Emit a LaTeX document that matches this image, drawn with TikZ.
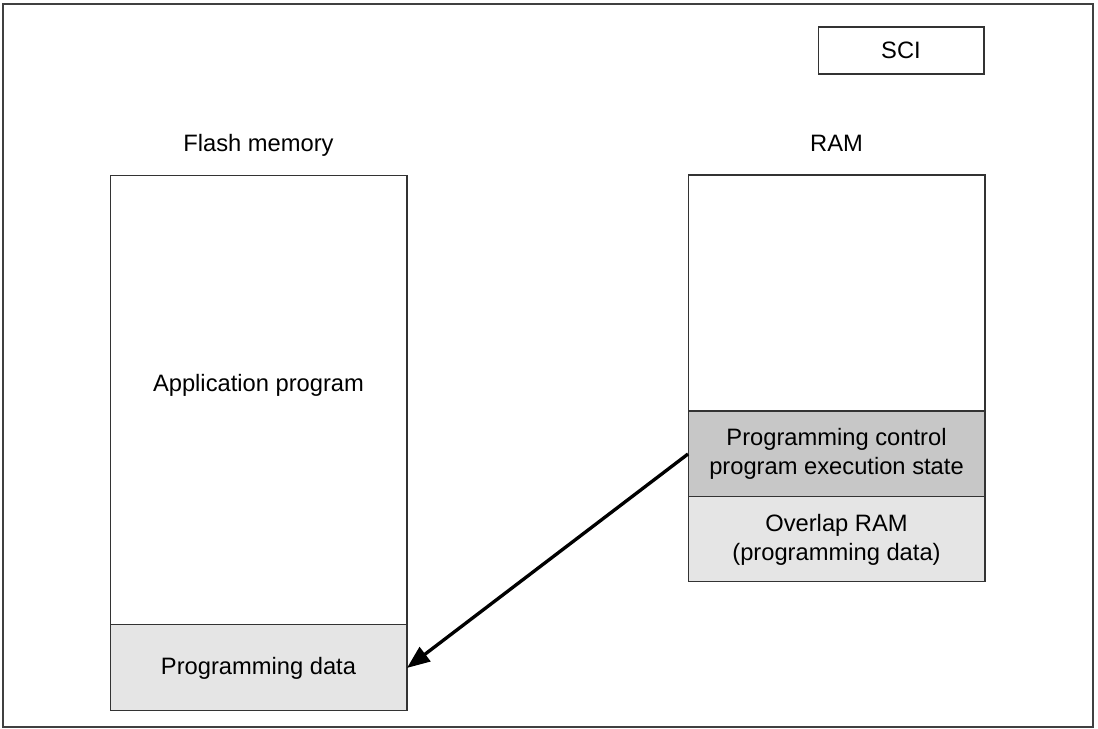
\documentclass[tikz,border=0pt]{standalone}
\usepackage{fontspec}
\setmainfont{Liberation Sans}
\usetikzlibrary{positioning,arrows.meta}

\tikzset{
  membox/.style={draw=black!80, line width=0.6pt, minimum width=5.94cm, outer sep=0pt, inner sep=0pt, align=center},
  memlabel/.style={text height=1.5ex, text depth=0.3ex},
  memarrow/.style={-{Triangle[length=13pt,width=10pt]}, line width=1.9pt}
}

\begin{document}
\begin{tikzpicture}[x=0.02cm, y=-0.02cm, font=\fontsize{13.5}{16.5}\selectfont]
      \useasboundingbox (0,0) rectangle (1098,729);

      % Outer frame
      \draw[black!75, line width=0.7pt] (3,4) rectangle (1093,727);

      % SCI box
      \node[draw=black!80, line width=0.6pt, minimum width=3.32cm, minimum height=0.94cm] (sci) at (901,50.5) {SCI};

      % Flash memory
      \node[membox, minimum height=9cm] (flashapp) at (258.5,400) {\raisebox{5pt}[0pt][0pt]{Application program}};
      \node[membox, fill=black!10, minimum height=1.72cm, below=0pt of flashapp] (flashdata) {Programming data};
      \node[memlabel, above=8pt of flashapp] (flashlabel) {Flash memory};

      % RAM
      \node[membox, minimum height=4.72cm] (ramfree) at (836.5,293) {};
      \node[membox, fill=black!22, minimum height=1.72cm, below=0pt of ramfree] (ramctrl) {Programming control\\program execution state};
      \node[membox, fill=black!10, minimum height=1.70cm, below=0pt of ramctrl] (ramover) {Overlap RAM\\(programming data)};
      \node[memlabel, above=8pt of ramfree] (ramlabel) {RAM};

      % Transfer arrow
      \draw[memarrow] (ramctrl.west) -- (flashdata.east);
    \end{tikzpicture}
\end{document}
